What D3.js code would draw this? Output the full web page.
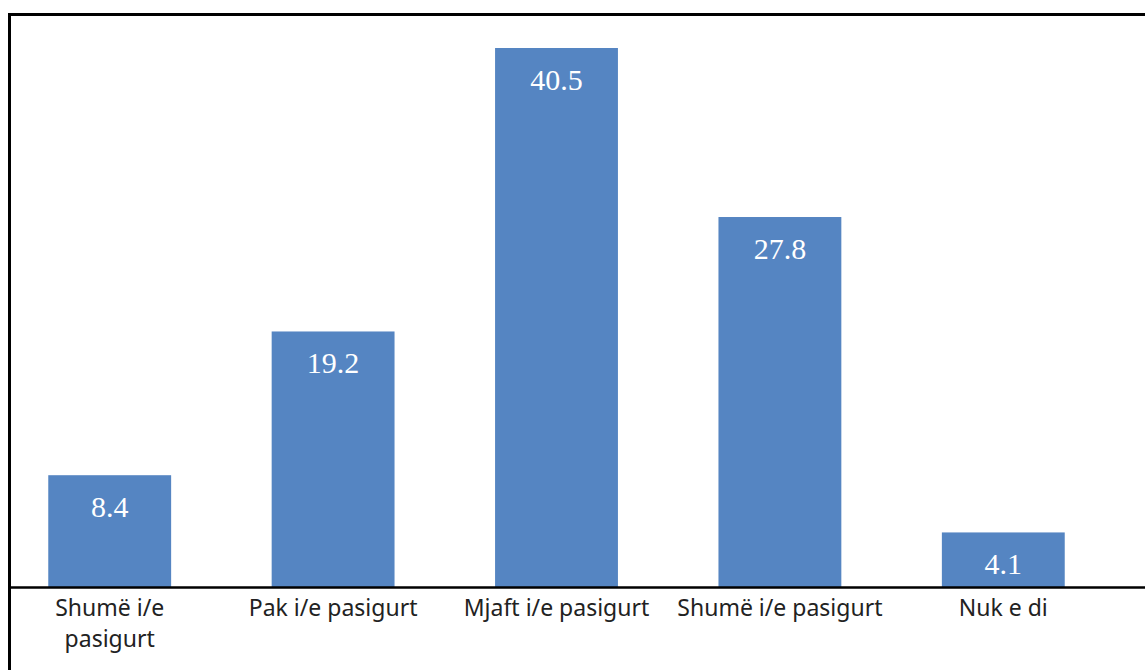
<!DOCTYPE html>
<html>
<head>
<meta charset="utf-8">
<script src="https://cdn.jsdelivr.net/npm/d3@7"></script>
<style>
  html, body { margin: 0; padding: 0; background: #fff; }
  svg { display: block; }
</style>
</head>
<body>
<script>
const categories = ["Shumë i/e pasigurt (1)", "Pak i/e pasigurt", "Mjaft i/e pasigurt", "Shumë i/e pasigurt (2)", "Nuk e di"];
const tickLabels = [["Shumë i/e", "pasigurt"], ["Pak i/e pasigurt"], ["Mjaft i/e pasigurt"], ["Shumë i/e pasigurt"], ["Nuk e di"]];
const values = [8.4, 19.2, 40.5, 27.8, 4.1];

const W = 1145, H = 670;
const svg = d3.select("body").append("svg").attr("width", W).attr("height", H);

// outer frame
svg.append("rect")
  .attr("x", 9.5).attr("y", 14.5)
  .attr("width", W + 20).attr("height", H + 20)
  .attr("fill", "none").attr("stroke", "#000").attr("stroke-width", 3);

const baseY = 587;
const x = d3.scaleBand().domain(categories).range([-2, 1115]).paddingInner(0.45).paddingOuter(0.225);
const y = d3.scaleLinear().domain([0, d3.max(values)]).range([baseY, 48]);

const data = categories.map((c, i) => ({ c, v: values[i], lab: tickLabels[i] }));

svg.selectAll("rect.bar").data(data).enter().append("rect")
  .attr("class", "bar")
  .attr("x", d => x(d.c))
  .attr("width", x.bandwidth())
  .attr("y", d => y(d.v))
  .attr("height", d => baseY - y(d.v))
  .attr("fill", "#5585c2");

svg.selectAll("text.val").data(data).enter().append("text")
  .attr("class", "val")
  .attr("x", d => x(d.c) + x.bandwidth() / 2)
  .attr("y", d => y(d.v) + 42)
  .attr("text-anchor", "middle")
  .attr("fill", "#fff")
  .style("font-family", "'Liberation Serif', 'DejaVu Serif', serif")
  .style("font-size", "30px")
  .text(d => d.v.toFixed(1));

// x axis
const axis = d3.axisBottom(x).tickSize(0).tickFormat("");
const gx = svg.append("g").attr("transform", `translate(0,${baseY})`).call(axis);
gx.select(".domain").remove();
svg.append("line")
  .attr("x1", 10).attr("x2", W).attr("y1", baseY + 0.5).attr("y2", baseY + 0.5)
  .attr("stroke", "#000").attr("stroke-width", 2.5);

gx.selectAll(".tick").each(function(c, i) {
  const t = d3.select(this).append("text")
    .attr("fill", "#222")
    .attr("text-anchor", "middle")
    .style("font-family", "'Noto Sans', 'Open Sans', sans-serif")
    .style("font-size", "23px")
    .attr("y", 29);
  tickLabels[i].forEach((line, k) => {
    t.append("tspan").attr("x", 0).attr("dy", k === 0 ? 0 : 31).text(line);
  });
});
</script>
</body>
</html>
